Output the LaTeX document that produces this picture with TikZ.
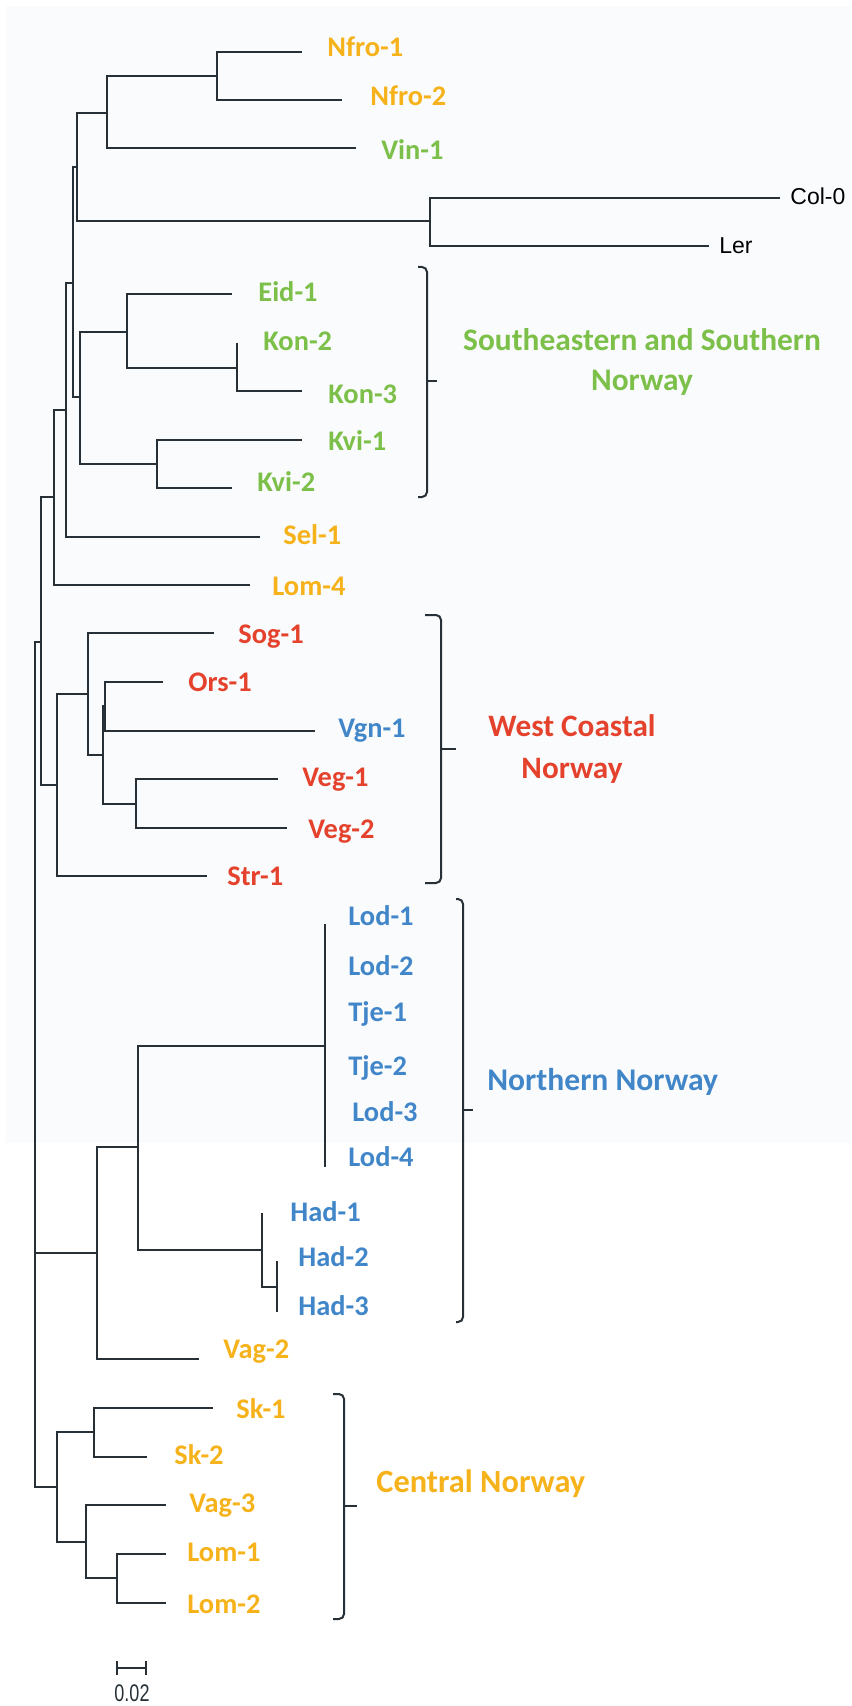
\documentclass[tikz,border=0pt]{standalone}
\usepackage{fontspec}
\setmainfont{Carlito}
\newfontfamily\arialfont{Liberation Sans}
\usetikzlibrary{positioning}

\definecolor{cgold}{RGB}{246,178,26}
\definecolor{cgreen}{RGB}{124,192,74}
\definecolor{cred}{RGB}{228,66,44}
\definecolor{cblue}{RGB}{64,134,200}
\definecolor{cline}{RGB}{38,48,54}
\definecolor{tint}{RGB}{250,251,253}

\begin{document}
\begin{tikzpicture}[x=0.5pt, y=-0.5pt,
  branch/.style={draw=cline, line width=1pt},
  brk/.style={draw=cline, line width=1pt, rounded corners=2.5pt},
  leaf/.style={anchor=west, inner sep=0pt, text height=9.1pt, text depth=0pt,
    font=\fontsize{14.2}{16}\selectfont\bfseries},
  leafgold/.style={leaf, text=cgold},
  leafgreen/.style={leaf, text=cgreen},
  leafred/.style={leaf, text=cred},
  leafblue/.style={leaf, text=cblue},
  leafblack/.style={anchor=west, inner sep=0pt, text height=8.3pt, text depth=0pt,
    font=\arialfont\fontsize{11.5}{13}\selectfont},
  grp/.style={inner sep=0pt, align=center}]

\useasboundingbox (0,0) rectangle (851,1706);
\fill[tint] (6,6) rectangle (851,1143);

%inner nodes
\coordinate (r) at (35,1253);
\coordinate (1) at (41,642);
\coordinate (2) at (54,497);
\coordinate (3) at (66,410);
\coordinate (4) at (73,283);
\coordinate (5) at (77,167);
\coordinate (6) at (107,113);
\coordinate (7) at (217,76);
\coordinate (8) at (430,221);
\coordinate (9) at (80,397);
\coordinate (10) at (127,332);
\coordinate (11) at (237,368);
\coordinate (12) at (157,464);
\coordinate (13) at (57,785);
\coordinate (14) at (88,694);
\coordinate (15) at (103,755);
\coordinate (16) at (105,706);
\coordinate (17) at (136,804);
\coordinate (18) at (97,1253);
\coordinate (19) at (138,1147);
\coordinate (20) at (325,1046);
\coordinate (21) at (262,1250);
\coordinate (22) at (277,1287);
\coordinate (23) at (57,1487);
\coordinate (24) at (94,1432);
\coordinate (25) at (86,1542);
\coordinate (26) at (117,1578);

%tips
\coordinate (nfro1t) at (302,52);
\coordinate (nfro2t) at (342,100);
\coordinate (vin1t) at (356,148);
\coordinate (col0t) at (780,198);
\coordinate (lert) at (709,246);
\coordinate (eid1t) at (232,294);
\coordinate (kon2t) at (237,343);
\coordinate (kon3t) at (302,391);
\coordinate (kvi1t) at (302,440);
\coordinate (kvi2t) at (232,488);
\coordinate (sel1t) at (260,537);
\coordinate (lom4t) at (250,585);
\coordinate (sog1t) at (214,633);
\coordinate (ors1t) at (163,682);
\coordinate (vgn1t) at (315,731);
\coordinate (veg1t) at (278,779);
\coordinate (veg2t) at (287,828);
\coordinate (str1t) at (207,876);
\coordinate (lod1t) at (325,924);
\coordinate (lod2t) at (325,966);
\coordinate (tje1t) at (325,1013);
\coordinate (tje2t) at (325,1066);
\coordinate (lod3t) at (325,1112);
\coordinate (lod4t) at (325,1167);
\coordinate (had1t) at (262,1213);
\coordinate (had2t) at (277,1261);
\coordinate (had3t) at (277,1312);
\coordinate (vag2t) at (199,1359);
\coordinate (sk1t) at (213,1408);
\coordinate (sk2t) at (147,1457);
\coordinate (vag3t) at (166,1505);
\coordinate (lom1t) at (166,1554);
\coordinate (lom2t) at (166,1603);

%labels
\node[leafgold] (nfro1) at (327,47) {Nfro-1};
\node[leafgold] (nfro2) at (370,96) {Nfro-2};
\node[leafgreen] (vin1) at (381,150) {Vin-1};
\node[leafblack] (col0) at (790,196) {Col-0};
\node[leafblack] (ler) at (719,245) {Ler};
\node[leafgreen] (eid1) at (258,292) {Eid-1};
\node[leafgreen] (kon2) at (263,341) {Kon-2};
\node[leafgreen] (kon3) at (328,394) {Kon-3};
\node[leafgreen] (kvi1) at (328,441) {Kvi-1};
\node[leafgreen] (kvi2) at (257,482) {Kvi-2};
\node[leafgold] (sel1) at (283,535) {Sel-1};
\node[leafgold] (lom4) at (272,586) {Lom-4};
\node[leafred] (sog1) at (238,634) {Sog-1};
\node[leafred] (ors1) at (188,682) {Ors-1};
\node[leafblue] (vgn1) at (338,728) {Vgn-1};
\node[leafred] (veg1) at (302,777) {Veg-1};
\node[leafred] (veg2) at (308,829) {Veg-2};
\node[leafred] (str1) at (227,876) {Str-1};
\node[leafblue] (lod1) at (348,916) {Lod-1};
\node[leafblue] (lod2) at (348,966) {Lod-2};
\node[leafblue] (tje1) at (348,1012) {Tje-1};
\node[leafblue] (tje2) at (348,1066) {Tje-2};
\node[leafblue] (lod3) at (352,1112) {Lod-3};
\node[leafblue] (lod4) at (348,1157) {Lod-4};
\node[leafblue] (had1) at (290,1212) {Had-1};
\node[leafblue] (had2) at (298,1257) {Had-2};
\node[leafblue] (had3) at (298,1306) {Had-3};
\node[leafgold] (vag2) at (223,1349) {Vag-2};
\node[leafgold] (sk1) at (236,1409) {Sk-1};
\node[leafgold] (sk2) at (174,1455) {Sk-2};
\node[leafgold] (vag3) at (189,1503) {Vag-3};
\node[leafgold] (lom1) at (187,1552) {Lom-1};
\node[leafgold] (lom2) at (187,1604) {Lom-2};

%branches
\draw[branch] (r) |- (1) (r) |- (18) (r) |- (23);
\draw[branch] (1) |- (2) (1) |- (13);
\draw[branch] (2) |- (3) (2) |- (lom4t);
\draw[branch] (3) |- (4) (3) |- (sel1t);
\draw[branch] (4) |- (5) (4) |- (9);
\draw[branch] (5) |- (6) (5) |- (8);
\draw[branch] (6) |- (7) (6) |- (vin1t);
\draw[branch] (7) |- (nfro1t) (7) |- (nfro2t);
\draw[branch] (8) |- (col0t) (8) |- (lert);
\draw[branch] (9) |- (10) (9) |- (12);
\draw[branch] (10) |- (eid1t) (10) |- (11);
\draw[branch] (11) |- (kon2t) (11) |- (kon3t);
\draw[branch] (12) |- (kvi1t) (12) |- (kvi2t);
\draw[branch] (13) |- (14) (13) |- (str1t);
\draw[branch] (14) |- (sog1t) (14) |- (15);
\draw[branch] (15) |- (16) (15) |- (17);
\draw[branch] (16) |- (ors1t) (16) |- (vgn1t);
\draw[branch] (17) |- (veg1t) (17) |- (veg2t);
\draw[branch] (18) |- (19) (18) |- (vag2t);
\draw[branch] (19) |- (20) (19) |- (21);
\draw[branch] (20) |- (lod1t) (20) |- (lod2t) (20) |- (tje1t) (20) |- (tje2t) (20) |- (lod3t) (20) |- (lod4t);
\draw[branch] (21) |- (had1t) (21) |- (22);
\draw[branch] (22) |- (had2t) (22) |- (had3t);
\draw[branch] (23) |- (24) (23) |- (25);
\draw[branch] (24) |- (sk1t) (24) |- (sk2t);
\draw[branch] (25) |- (vag3t) (25) |- (26);
\draw[branch] (26) |- (lom1t) (26) |- (lom2t);

%brackets
\draw[brk] (418,267) -- (427,267) -- (427,497) -- (418,497);
\draw[branch] (427,381) -- (437,381);
\draw[brk] (425,615) -- (441,615) -- (441,883) -- (425,883);
\draw[branch] (441,749) -- (456,749);
\draw[brk] (456,899) -- (463,899) -- (463,1322) -- (456,1322);
\draw[branch] (463,1110) -- (473,1110);
\draw[brk] (333,1394) -- (344,1394) -- (344,1619) -- (333,1619);
\draw[branch] (344,1506) -- (357,1506);

%group names
\node[grp, text=cgreen, font=\fontsize{15.7}{20}\selectfont\bfseries] (southeast) at (642,362) {Southeastern and Southern\\Norway};
\node[grp, text=cred, font=\fontsize{15.6}{21}\selectfont\bfseries] (west) at (572,749) {West Coastal\\Norway};
\node[grp, text=cblue, anchor=west, font=\fontsize{15.8}{18}\selectfont\bfseries] (north) at (487,1082) {Northern Norway};
\node[grp, text=cgold, anchor=west, font=\fontsize{16.2}{18}\selectfont\bfseries] (central) at (376,1484) {Central Norway};

%scale
\coordinate (sa) at (117,1668);
\coordinate (sb) at (146,1668);
\draw[branch, line width=0.8pt] (sa) -- (sb) ([yshift=3.5pt]sa) -- ([yshift=-3.5pt]sa) ([yshift=3.5pt]sb) -- ([yshift=-3.5pt]sb);
\node[inner sep=0pt, font=\arialfont\fontsize{12}{13}\selectfont, text=cline] (scale) at (132,1693) {\scalebox{0.75}[1]{0.02}};

\end{tikzpicture}
\end{document}
